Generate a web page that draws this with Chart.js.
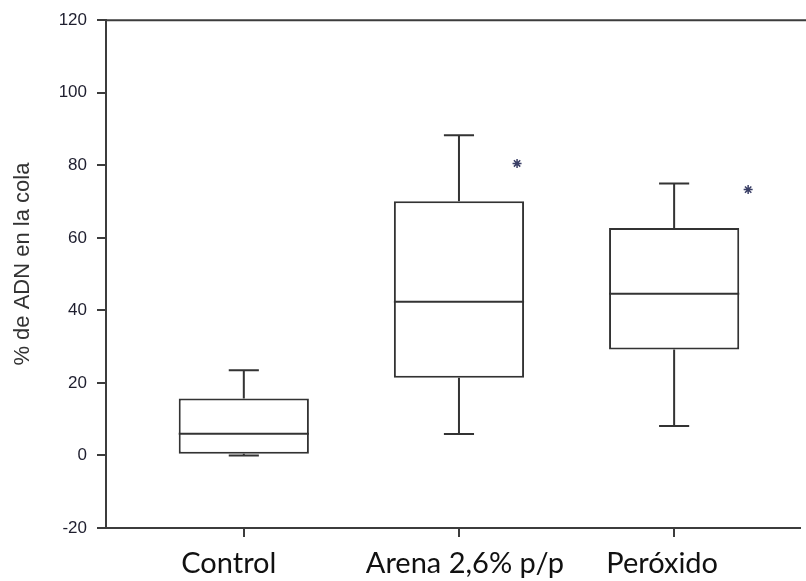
<!DOCTYPE html>
<html>
<head>
<meta charset="utf-8">
<script src="https://cdn.jsdelivr.net/npm/chart.js@4"></script>
<style>
  html, body { margin: 0; padding: 0; background: #ffffff; }
  #wrap { width: 806px; height: 581px; position: relative; }
</style>
</head>
<body>
<div id="wrap"><canvas id="chart"></canvas></div>
<script>
// Groups on the category axis
const categories = ['Control', 'Arena 2,6% p/p', 'Peróxido'];

// Box-plot summary per group (% DNA in tail)
const whiskerLow  = [0.0, 5.9, 8.1];
const quartile1   = [0.5, 21.4, 29.2];
const median      = [6.0, 42.4, 44.6];
const quartile3   = [15.7, 70.1, 62.7];
const whiskerHigh = [23.5, 88.3, 75.0];

// Significance markers (*) : x position on the group axis and height
const starX = [2.27, 3.344];
const starY = [80.5, 73.3];

// Y axis ticks
const yTicks = [-20, 0, 20, 40, 60, 80, 100, 120];

const yTitle = '% de ADN en la cola';

const LINE = '#333333';
const AXIS = '#3c3c3c';
const SANS = '"Liberation Sans", Arial, sans-serif';
const LABEL_FONT = '29px Lato, "Open Sans", sans-serif';
// horizontal nudge (px) of each group label relative to its tick
const labelNudge = [-15, 6, -12];

const groupPos = categories.map((c, i) => i + 1);

// Whiskers, caps, medians, frame top, group labels and axis title
const boxExtras = {
  id: 'boxExtras',
  afterDatasetsDraw(chart) {
    const { ctx, scales: { x, y }, chartArea } = chart;
    const meta = chart.getDatasetMeta(0);
    ctx.save();
    ctx.strokeStyle = LINE;
    ctx.lineWidth = 2;
    ctx.lineCap = 'butt';
    groupPos.forEach((g, i) => {
      const bar = meta.data[i];
      const half = bar.width / 2;
      const cx = x.getPixelForValue(g);
      const capHalf = x.getPixelForValue(g + 0.07) - cx;
      const yMed = y.getPixelForValue(median[i]);
      const yQ1 = y.getPixelForValue(quartile1[i]);
      const yQ3 = y.getPixelForValue(quartile3[i]);
      const yLo = y.getPixelForValue(whiskerLow[i]);
      const yHi = y.getPixelForValue(whiskerHigh[i]);
      ctx.beginPath();
      ctx.moveTo(cx - half, yMed); ctx.lineTo(cx + half, yMed);
      ctx.moveTo(cx, yQ3); ctx.lineTo(cx, yHi);
      ctx.moveTo(cx - capHalf, yHi); ctx.lineTo(cx + capHalf, yHi);
      ctx.moveTo(cx, yQ1); ctx.lineTo(cx, yLo);
      ctx.moveTo(cx - capHalf, yLo); ctx.lineTo(cx + capHalf, yLo);
      ctx.stroke();
    });
    // top frame line
    ctx.strokeStyle = AXIS;
    ctx.beginPath();
    ctx.moveTo(chartArea.left, chartArea.top);
    ctx.lineTo(chart.width, chartArea.top);
    ctx.stroke();

    // group labels under the x axis
    ctx.fillStyle = '#111111';
    ctx.font = LABEL_FONT;
    ctx.textAlign = 'center';
    ctx.textBaseline = 'alphabetic';
    groupPos.forEach((g, i) => {
      ctx.fillText(categories[i], x.getPixelForValue(g) + labelNudge[i], chartArea.bottom + 45);
    });

    // y axis title
    ctx.fillStyle = '#333333';
    ctx.font = '22px ' + SANS;
    ctx.translate(23, (chartArea.top + chartArea.bottom) / 2 - 10);
    ctx.rotate(-Math.PI / 2);
    ctx.textAlign = 'center';
    ctx.textBaseline = 'middle';
    ctx.fillText(yTitle, 0, 0);
    ctx.restore();
  }
};

new Chart(document.getElementById('chart'), {
  type: 'bar',
  data: {
    datasets: [
      {
        type: 'bar',
        data: groupPos.map((g, i) => ({ x: g, y: [quartile1[i], quartile3[i]] })),
        backgroundColor: '#ffffff',
        borderColor: LINE,
        borderWidth: 2,
        borderSkipped: false,
        barPercentage: 0.605,
        categoryPercentage: 1.0
      },
      {
        type: 'scatter',
        data: starX.map((sx, i) => ({ x: sx, y: starY[i] })),
        pointStyle: 'star',
        radius: 4.5,
        borderColor: '#3a3f66',
        backgroundColor: '#3a3f66',
        borderWidth: 1.5
      }
    ]
  },
  options: {
    responsive: true,
    maintainAspectRatio: false,
    animation: false,
    layout: { padding: { top: 20, right: 0, left: 0, bottom: 0 } },
    plugins: { legend: { display: false }, tooltip: { enabled: false } },
    scales: {
      x: {
        type: 'linear',
        offset: false,
        min: 0.3595,
        max: 3.585,
        afterBuildTicks(scale) {
          scale.ticks = groupPos.map(v => ({ value: v }));
        },
        afterFit(scale) {
          scale.height = 53;
          scale.paddingLeft = 0;
          scale.paddingRight = 0;
        },
        grid: {
          display: true,
          offset: false,
          drawOnChartArea: false,
          drawTicks: true,
          tickLength: 9,
          color: AXIS,
          lineWidth: 2
        },
        border: { display: true, color: AXIS, width: 2 },
        ticks: { display: false, autoSkip: false, maxRotation: 0 }
      },
      y: {
        min: -20,
        max: 120,
        afterBuildTicks(scale) {
          scale.ticks = yTicks.map(v => ({ value: v }));
        },
        afterFit(scale) { scale.width = 106; },
        grid: {
          display: true,
          drawOnChartArea: false,
          drawTicks: true,
          tickLength: 9,
          color: AXIS,
          lineWidth: 2
        },
        border: { display: true, color: AXIS, width: 2 },
        ticks: {
          padding: 10,
          color: '#1e1e2e',
          font: { family: SANS, size: 17 }
        }
      }
    }
  },
  plugins: [boxExtras]
});
</script>
</body>
</html>
